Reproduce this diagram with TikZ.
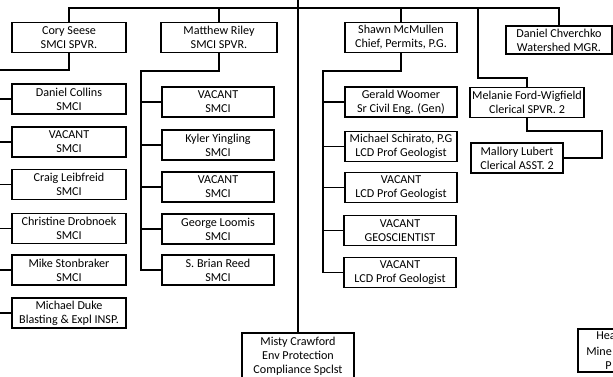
\documentclass[tikz,border=0pt]{standalone}
\usepackage{fontspec}
\setmainfont{Carlito}
\usepackage{tikz}
\usetikzlibrary{positioning,calc}

\tikzset{
  staff/.style={draw, line width=1.1pt, align=center, minimum width=2.24cm,
    minimum height=0.6cm, inner sep=1pt, font=\fontsize{6.9}{8}\selectfont},
  wire/.style={line width=0.9pt}
}

\begin{document}
\begin{tikzpicture}[x=0.02cm,y=-0.02cm]
    \useasboundingbox (0,0) rectangle (613,376);
    \clip (0,0) rectangle (613,376);

    % Supervisors
    \node[staff, minimum width=2.28cm] (cory) at (69,37.5) {Cory Seese\\SMCI SPVR.};
    \node[staff, minimum width=2.32cm] (riley) at (219,37.5) {Matthew Riley\\SMCI SPVR.};
    \node[staff] (shawn) at (401,37.5) {Shawn McMullen\\Chief, Permits, P.G.};
    \node[staff, minimum width=2.12cm, minimum height=0.56cm] (chverchko) at (559,40) {Daniel Chverchko\\Watershed MGR.};
    \node[staff] (melanie) at (527,102.5) {Melanie Ford-Wigfield\\Clerical SPVR. 2};
    \node[staff, minimum width=1.84cm] (mallory) at (517,158) {Mallory Lubert\\Clerical ASST. 2};
    \node[staff, minimum height=0.92cm] (misty) at (298,356) {Misty Crawford\\Env Protection\\Compliance Spclst};

    % Cory Seese staff
    \node[staff, minimum width=2.28cm] (collins) at (69,99) {Daniel Collins\\SMCI};
    \node[staff, minimum width=2.28cm] (cvacant) at (69,142) {VACANT\\SMCI};
    \node[staff, minimum width=2.28cm] (craig) at (69,184.5) {Craig Leibfreid\\SMCI};
    \node[staff, minimum width=2.28cm] (christine) at (69,228.5) {Christine Drobnoek\\SMCI};
    \node[staff, minimum width=2.28cm] (mike) at (69,270) {Mike Stonbraker\\SMCI};
    \node[staff, minimum width=2.28cm] (duke) at (69,313) {Michael Duke\\Blasting \& Expl INSP.};

    % Matthew Riley staff
    \node[staff] (rvacanta) at (218,102) {VACANT\\SMCI};
    \node[staff] (kyler) at (218,145) {Kyler Yingling\\SMCI};
    \node[staff] (rvacantb) at (218,187) {VACANT\\SMCI};
    \node[staff] (george) at (218,229) {George Loomis\\SMCI};
    \node[staff] (brian) at (218,270) {S. Brian Reed\\SMCI};

    % Shawn McMullen staff
    \node[staff] (gerald) at (401,102) {Gerald Woomer\\Sr Civil Eng. (Gen)};
    \node[staff] (schirato) at (401,146.5) {Michael Schirato, P.G\\LCD Prof Geologist};
    \node[staff] (svacanta) at (401,187.5) {VACANT\\LCD Prof Geologist};
    \node[staff] (svacantb) at (400,230.5) {VACANT\\GEOSCIENTIST};
    \node[staff] (svacantc) at (400,272.5) {VACANT\\LCD Prof Geologist};

    % Cut-off box
    \draw[line width=1.1pt] (578,329) rectangle (660,372);
    \node[inner sep=0, anchor=west, font=\fontsize{6.9}{8}\selectfont] (headsa) at (596,336) {Hea};
    \node[inner sep=0, anchor=west, font=\fontsize{6.9}{8}\selectfont] (headsb) at (586,351) {Mine};
    \node[inner sep=0, anchor=west, font=\fontsize{6.9}{8}\selectfont] (headsc) at (605,366) {P};

    % Bus points
    \coordinate (top) at (298,-5);
    \coordinate (bus) at (298,8);
    \coordinate (cbus) at (-5,70);
    \coordinate (rbus) at (141,71);
    \coordinate (sbus) at (323,71);
    \coordinate (mbend) at (478,78);
    \coordinate (abend) at (602,131);

    % Connectors
    \draw[wire] (cory.north) |- (bus -| chverchko.north) -- (chverchko.north);
    \draw[wire] (top) -- (misty.north);
    \draw[wire] (riley.north) -- (riley.north |- bus);
    \draw[wire] (shawn.north) -- (shawn.north |- bus);
    \draw[wire] (mbend |- bus) -- (mbend) -| (melanie.north);
    \draw[wire] (melanie.south) |- (abend) |- (mallory.east);

    \draw[wire] (cory.south) |- (cbus);
    \draw[wire] (cbus |- collins.west) -- (collins.west);
    \draw[wire] (cbus |- cvacant.west) -- (cvacant.west);
    \draw[wire] (cbus |- craig.west) -- (craig.west);
    \draw[wire] (cbus |- christine.west) -- (christine.west);
    \draw[wire] (cbus |- mike.west) -- (mike.west);
    \draw[wire] (cbus |- duke.west) -- (duke.west);

    \draw[wire] (riley.south) |- (rbus) |- (brian.west);
    \draw[wire] (rbus |- rvacanta.west) -- (rvacanta.west);
    \draw[wire] (rbus |- kyler.west) -- (kyler.west);
    \draw[wire] (rbus |- rvacantb.west) -- (rvacantb.west);
    \draw[wire] (rbus |- george.west) -- (george.west);

    \draw[wire] (shawn.south) |- (sbus) |- (svacantc.west);
    \draw[wire] (sbus |- gerald.west) -- (gerald.west);
    \draw[wire] (sbus |- schirato.west) -- (schirato.west);
    \draw[wire] (sbus |- svacanta.west) -- (svacanta.west);
    \draw[wire] (sbus |- svacantb.west) -- (svacantb.west);
\end{tikzpicture}
\end{document}
